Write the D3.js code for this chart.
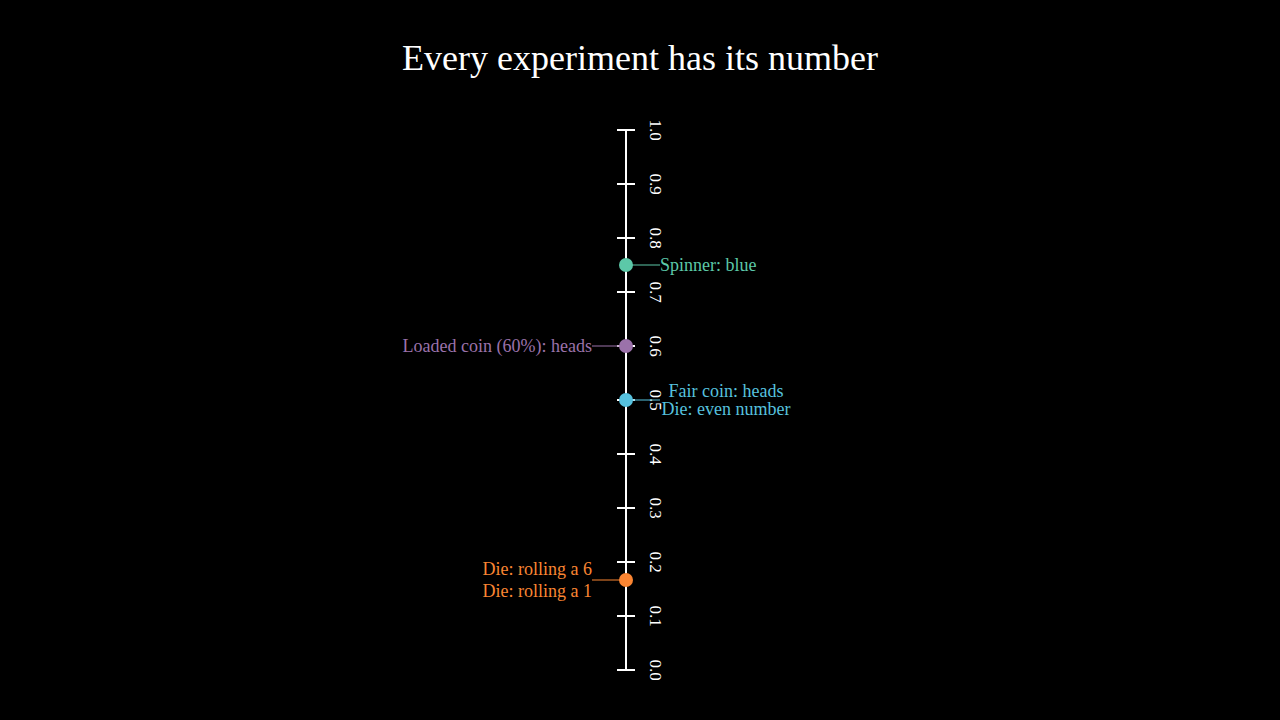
<!DOCTYPE html>
<html>
<head>
<meta charset="utf-8">
<script src="https://cdn.jsdelivr.net/npm/d3@7"></script>
<style>
  body { margin: 0; background: #000; }
  text { font-family: "Liberation Serif", "DejaVu Serif", serif; }
</style>
</head>
<body>
<div id="chart"></div>
<script>
var width = 1280;
var height = 720;

// data
var tickValues = [0, 0.1, 0.2, 0.3, 0.4, 0.5, 0.6, 0.7, 0.8, 0.9, 1.0];
var eventNames = [
  ["Spinner: blue"],
  ["Loaded coin (60%): heads"],
  ["Fair coin: heads", "Die: even number"],
  ["Die: rolling a 6", "Die: rolling a 1"]
];
var eventProbs = [0.75, 0.6, 0.5, 1 / 6];
var eventSides = ["right", "left", "right", "left"];
var eventColors = ["#5cc8a8", "#9b72aa", "#56c1de", "#fa8532"];

var svg = d3
  .select("#chart")
  .append("svg")
  .attr("width", width)
  .attr("height", height)
  .style("background", "#000");

svg
  .append("text")
  .attr("x", width / 2)
  .attr("y", 70)
  .attr("text-anchor", "middle")
  .attr("fill", "#fff")
  .style("font-size", "36px")
  .text("Every experiment has its number");

var axisX = 626;
var y = d3.scaleLinear().domain([0, 1]).range([670, 130]);

// axis line
svg
  .append("line")
  .attr("x1", axisX)
  .attr("x2", axisX)
  .attr("y1", y(0))
  .attr("y2", y(1))
  .attr("stroke", "#fff")
  .attr("stroke-width", 2);

var ticks = svg.selectAll(".tick").data(tickValues).enter().append("g").attr("class", "tick");

ticks
  .append("line")
  .attr("x1", axisX - 9)
  .attr("x2", axisX + 9)
  .attr("y1", (d) => y(d))
  .attr("y2", (d) => y(d))
  .attr("stroke", "#fff")
  .attr("stroke-width", 2);

ticks
  .append("text")
  .attr("transform", (d) => "translate(" + (axisX + 24) + "," + y(d) + ") rotate(90)")
  .attr("text-anchor", "middle")
  .attr("fill", "#fff")
  .style("font-size", "17px")
  .text((d) => d.toFixed(1));

// events
eventProbs.forEach(function (p, i) {
  var cy = y(p);
  var right = eventSides[i] === "right";
  var color = eventColors[i];
  var lineEnd = right ? axisX + 34 : axisX - 34;

  svg
    .append("line")
    .attr("x1", axisX)
    .attr("x2", lineEnd)
    .attr("y1", cy)
    .attr("y2", cy)
    .attr("stroke", color)
    .attr("stroke-width", 1.2);

  svg
    .append("circle")
    .attr("cx", axisX)
    .attr("cy", cy)
    .attr("r", 7)
    .attr("fill", color);

  var names = eventNames[i];
  var gap = names.length > 1 ? (right ? 18 : 22) : 0;
  names.forEach(function (name, j) {
    var ty = cy + 6 + (j - (names.length - 1) / 2) * gap;
    var t = svg
      .append("text")
      .attr("y", ty)
      .attr("fill", color)
      .style("font-size", "18px")
      .text(name);
    if (right && names.length > 1) {
      t.attr("x", lineEnd + 66).attr("text-anchor", "middle");
    } else if (right) {
      t.attr("x", lineEnd).attr("text-anchor", "start");
    } else {
      t.attr("x", lineEnd).attr("text-anchor", "end");
    }
  });
});
</script>
</body>
</html>
